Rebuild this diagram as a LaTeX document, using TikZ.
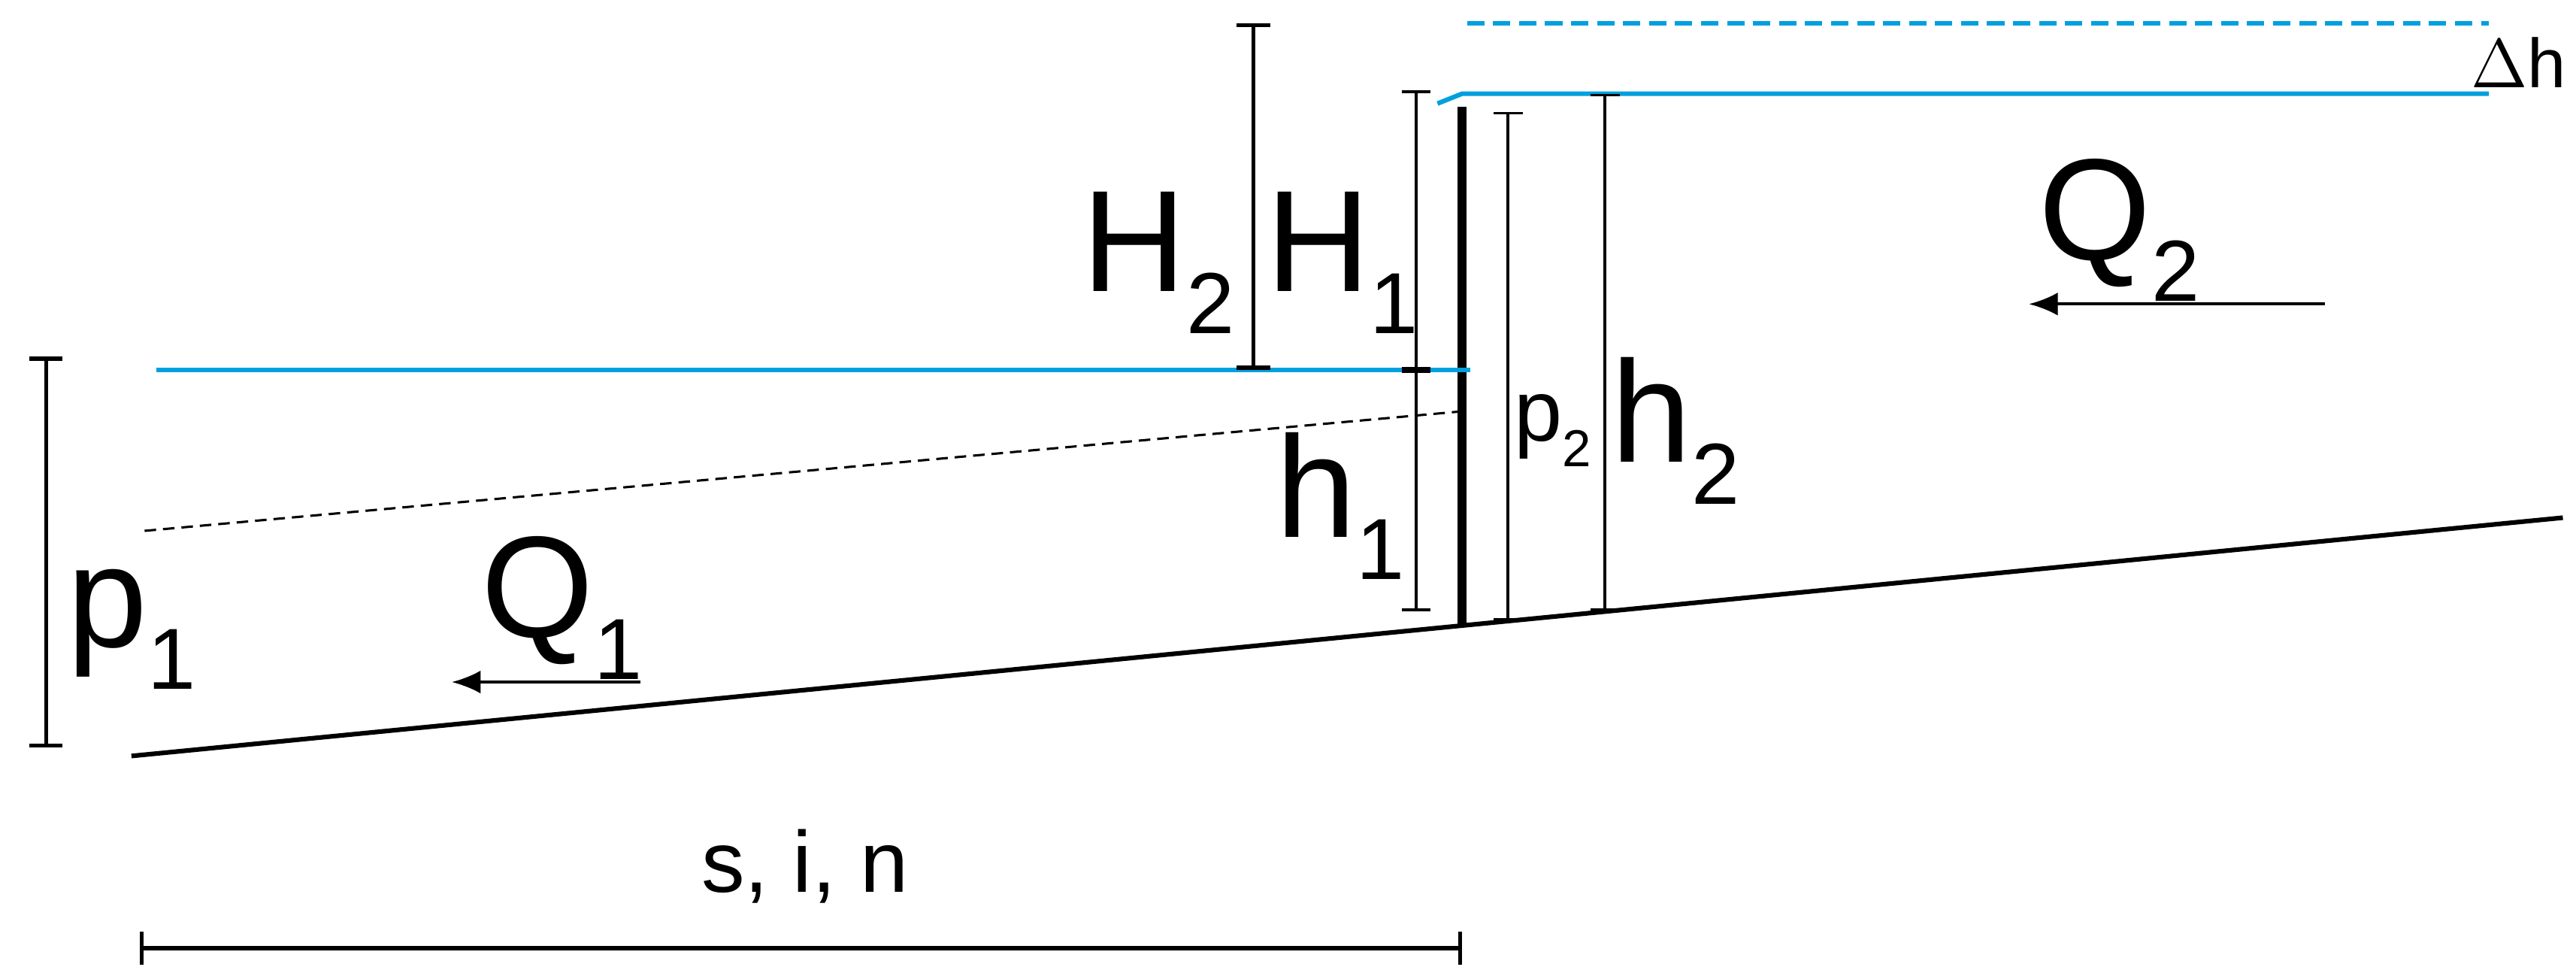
\documentclass[tikz,border=0pt]{standalone}
\usepackage{fontspec}
\setmainfont{Liberation Sans}
\usepackage{tikz}
\usetikzlibrary{positioning,calc,arrows.meta}
\definecolor{water}{RGB}{0,160,222}
\newcommand{\lowsub}[1]{\raisebox{-0.55ex}{\fontsize{15}{15}\selectfont #1}}
\begin{document}
\begin{tikzpicture}[x=0.01cm,y=-0.01cm,
    lbl/.style={inner sep=0pt,font=\fontsize{25}{25}\selectfont},
    dim/.style={line width=0.5pt,|-|,>={Bar[width=5pt]}},
    dimthick/.style={line width=0.7pt,|-|,>={Bar[width=7pt]}},
    wline/.style={water,line width=0.8pt}]
  \useasboundingbox (0,0) rectangle (1568,590);
  % bed and gate
  \coordinate (bedL) at (80,460);
  \coordinate (bedR) at (1560,315);
  \draw[line width=0.8pt] (bedL) -- (bedR);
  \coordinate (gateT) at (890,65);
  \coordinate (gateB) at (890,381);
  \draw[line width=1.6pt] (gateT) -- (gateB);
  % water levels
  \coordinate (dwL) at (95,225);
  \coordinate (dwR) at (895,225);
  \draw[wline] (dwL) -- (dwR);
  \coordinate (dsL) at (88,323);
  \coordinate (dsR) at (893,250);
  \draw[dash pattern=on 2pt off 1.2pt,line width=0.4pt] (dsL) -- (dsR);
  \coordinate (uwA) at (875,63);
  \coordinate (uwB) at (890,57);
  \coordinate (uwR) at (1515,57);
  \draw[wline] (uwA) -- (uwB) -- (uwR);
  \coordinate (udL) at (893,14);
  \coordinate (udR) at (1515,14);
  \draw[wline,dash pattern=on 3pt off 1.5pt] (udL) -- (udR);
  \node[lbl,font=\fontsize{12}{12}\selectfont] (dh) at (1533,38) {$\Delta$h};
  % dimensions
  \coordinate (p1t) at (28,217);
  \coordinate (p1b) at (28,455);
  \draw[dimthick] (p1t) -- (p1b);
  \node[lbl] (p1) at (80,383) {p\lowsub{1}};
  \coordinate (H2t) at (763,14);
  \coordinate (H2b) at (763,225);
  \draw[dimthick] (H2t) -- (H2b);
  \node[lbl] (H2) at (705,160) {H\lowsub{2}};
  \coordinate (H1t) at (862,55);
  \coordinate (H1b) at (862,225);
  \coordinate (h1b) at (862,372);
  \draw[dim] (H1t) -- (H1b);
  \draw[dim] (H1b) -- (h1b);
  \node[lbl] (H1) at (817,160) {H\lowsub{1}};
  \node[lbl] (h1) at (816,308) {h\lowsub{1}};
  \coordinate (p2t) at (918,68);
  \coordinate (p2b) at (918,378);
  \draw[dim] (p2t) -- (p2b);
  \node[lbl,font=\fontsize{15}{15}\selectfont] (p2) at (945,262) {p\raisebox{-0.55ex}{\fontsize{9}{9}\selectfont 2}};
  \coordinate (h2t) at (977,57);
  \coordinate (h2b) at (977,372);
  \draw[dim] (h2t) -- (h2b);
  \node[lbl] (h2) at (1020,262) {h\lowsub{2}};
  \coordinate (sL) at (85,577);
  \coordinate (sR) at (890,577);
  \draw[dimthick] (sL) -- (sR);
  \node[lbl,font=\fontsize{15}{15}\selectfont] (sin) at (490,527) {s, i, n};
  % discharges
  \coordinate (q1s) at (390,415);
  \coordinate (q1e) at (275,415);
  \draw[-{Latex[length=5pt,width=4pt]},line width=0.5pt] (q1s) -- (q1e);
  \node[lbl] (Q1) at (342,370) {Q\lowsub{1}};
  \coordinate (q2s) at (1415,185);
  \coordinate (q2e) at (1235,185);
  \draw[-{Latex[length=5pt,width=4pt]},line width=0.5pt] (q2s) -- (q2e);
  \node[lbl] (Q2) at (1290,140) {Q\lowsub{2}};
\end{tikzpicture}
\end{document}
